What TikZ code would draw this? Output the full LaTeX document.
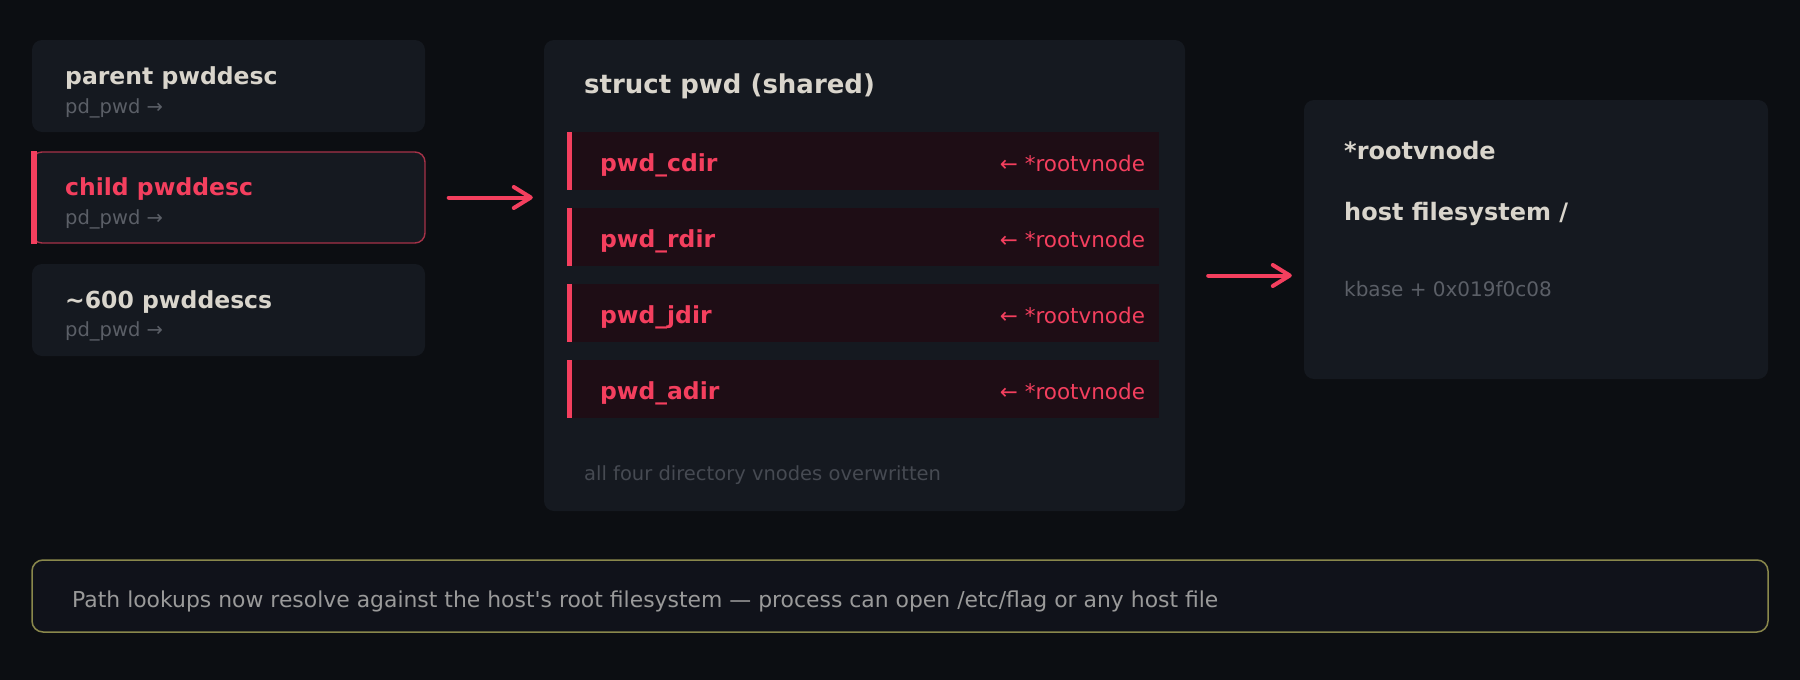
\documentclass[tikz,border=0pt]{standalone}
\usepackage{fontspec}
\setmainfont{DejaVu Sans}
\newfontfamily\dvs{DejaVu Sans}
\usetikzlibrary{arrows.meta}
\definecolor{bg}{HTML}{0C0E12}
\definecolor{card}{HTML}{151920}
\definecolor{rowfill}{HTML}{1E0D15}
\definecolor{accent}{HTML}{F43F5E}
\definecolor{titletxt}{HTML}{D9D5CC}
\definecolor{subtxt}{HTML}{5B5F67}
\definecolor{foottxt}{HTML}{464A52}
\definecolor{notetxt}{HTML}{9A9A9A}
\definecolor{noteborder}{HTML}{8A884C}
\definecolor{notefill}{HTML}{10121A}
\tikzset{
  cardbox/.style={rounded corners=10pt, fill=card, draw=none, inner sep=0pt},
  rowbox/.style={fill=rowfill, draw=none, inner sep=0pt, minimum width=592pt, minimum height=58pt},
  txt/.style={inner sep=0pt, text height=0.75em, text depth=0.25em},
  ttl/.style={txt, anchor=west, font=\dvs\fontsize{23.5}{28}\selectfont\bfseries, text=titletxt},
  subt/.style={txt, anchor=west, font=\dvs\fontsize{19.5}{24}\selectfont, text=subtxt},
  rowl/.style={txt, anchor=west, font=\dvs\fontsize{23.5}{28}\selectfont\bfseries, text=accent},
  rowr/.style={txt, anchor=east, font=\dvs\fontsize{21.5}{26}\selectfont, text=accent},
  arr/.style={draw=accent, line width=4pt, line cap=round,
    -{Straight Barb[length=17pt, width=21pt, line cap=round, line join=round]}},
}
\begin{document}
\begin{tikzpicture}[x=1pt, y=-1pt]
\fill[bg] (0,0) rectangle (1800,680);
\useasboundingbox (0,0) rectangle (1800,680);

% left column
\node[cardbox, minimum width=393pt, minimum height=92pt] (parent) at (228.5,86) {};
\node[cardbox, minimum width=393pt, minimum height=91pt, draw=accent!65!card, line width=1.4pt] (child) at (228.5,197.5) {};
\node[cardbox, minimum width=393pt, minimum height=92pt] (many) at (228.5,310) {};
\fill[accent] ([yshift=0.7pt]child.north west) rectangle ([xshift=6pt, yshift=-0.7pt]child.south west);

\node[ttl] (parentT) at (65,82) {parent pwddesc};
\node[subt] (parentS) at (65,111) {pd\_pwd →};
\node[ttl, text=accent] (childT) at (65,193) {child pwddesc};
\node[subt] (childS) at (65,222) {pd\_pwd →};
\node[ttl] (manyT) at (65,306) {\textasciitilde600 pwddescs};
\node[subt] (manyS) at (65,334) {pd\_pwd →};

% middle card
\node[cardbox, minimum width=641pt, minimum height=471pt] (mid) at (864.5,275.5) {};
\node[ttl, font=\dvs\fontsize{26}{30}\selectfont\bfseries] (midT) at (584,91) {struct pwd (shared)};

\node[rowbox] (r1) at (863,161) {};
\node[rowbox] (r2) at (863,237) {};
\node[rowbox] (r3) at (863,313) {};
\node[rowbox] (r4) at (863,389) {};
\foreach \r in {r1,r2,r3,r4}{
  \fill[accent] (\r.north west) rectangle ([xshift=5pt]\r.south west);
}
\node[rowl] (r1L) at ([xshift=33pt, yshift=-8pt]r1.west) {pwd\_cdir};
\node[rowr] (r1R) at ([xshift=-14pt, yshift=-8pt]r1.east) {← *rootvnode};
\node[rowl] (r2L) at ([xshift=33pt, yshift=-8pt]r2.west) {pwd\_rdir};
\node[rowr] (r2R) at ([xshift=-14pt, yshift=-8pt]r2.east) {← *rootvnode};
\node[rowl] (r3L) at ([xshift=33pt, yshift=-8pt]r3.west) {pwd\_jdir};
\node[rowr] (r3R) at ([xshift=-14pt, yshift=-8pt]r3.east) {← *rootvnode};
\node[rowl] (r4L) at ([xshift=33pt, yshift=-8pt]r4.west) {pwd\_adir};
\node[rowr] (r4R) at ([xshift=-14pt, yshift=-8pt]r4.east) {← *rootvnode};

\node[subt, text=foottxt, font=\dvs\fontsize{19.5}{24}\selectfont] (midF) at (584,478) {all four directory vnodes overwritten};

% right card
\node[cardbox, minimum width=464pt, minimum height=279pt] (root) at (1536,239.5) {};
\node[ttl, font=\dvs\fontsize{24}{28}\selectfont\bfseries] (rootT) at (1344,157) {*rootvnode};
\node[ttl, font=\dvs\fontsize{24}{28}\selectfont\bfseries] (rootH) at (1344,218) {host filesystem /};
\node[subt, font=\dvs\fontsize{20}{24}\selectfont] (rootK) at (1344,294) {kbase + 0x019f0c08};

% arrows
\draw[arr, shorten <=23pt, shorten >=11pt] (child.east) -- (mid.west |- child.east);
\draw[arr, shorten <=23pt, shorten >=12pt] (mid.east) -- (mid.east -| root.west);

% bottom note
\node[rounded corners=11pt, fill=notefill, draw=noteborder, line width=1.5pt, inner sep=0pt,
      minimum width=1736pt, minimum height=72pt] (note) at (900,596) {};
\node[txt, anchor=west, font=\dvs\fontsize{21.9}{26}\selectfont, text=notetxt] (noteT) at (72,605)
  {Path lookups now resolve against the host's root filesystem — process can open /etc/flag or any host file};
\end{tikzpicture}
\end{document}
